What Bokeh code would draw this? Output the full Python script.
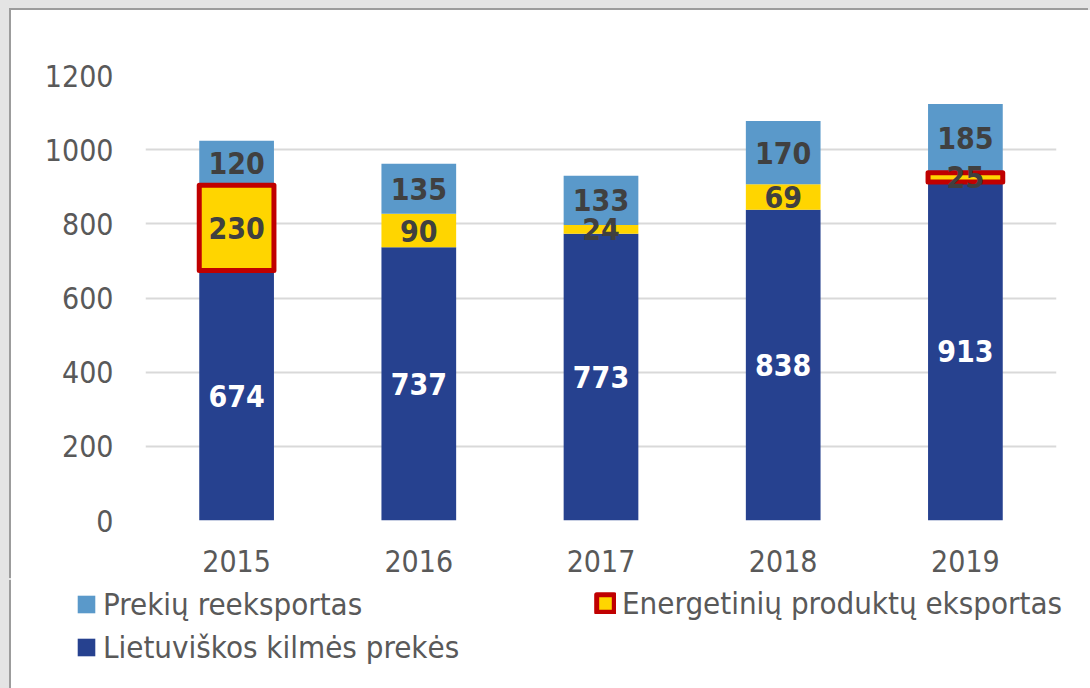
from bokeh.plotting import figure
from bokeh.models import ColumnDataSource, FactorRange, Range1d, FixedTicker, Legend, LegendItem
from bokeh.layouts import column
from bokeh.embed import file_html
from bokeh.resources import INLINE
from bokeh.core.properties import value

# ---- data ----
years = ["2015", "2016", "2017", "2018", "2019"]
domestic = [674, 737, 773, 838, 913]          # Lietuviškos kilmės prekės
energy = [230, 90, 24, 69, 25]                # Energetinių produktų eksportas
reexport = [120, 135, 133, 170, 185]          # Prekių reeksportas
highlight_years = ["2015", "2019"]
y_ticks = [0, 200, 400, 600, 800, 1000, 1200]
series_names = ["Prekių reeksportas", "Energetinių produktų eksportas", "Lietuviškos kilmės prekės"]

# ---- style ----
FONT = "DejaVu Sans Condensed"
C_DOM = "#26418F"
C_EN = "#FFD500"
C_RE = "#5A99CA"
C_HL = "#C00000"
C_TXT = "#595959"
C_LBL = "#404040"

dom_top = domestic
en_top = [d + e for d, e in zip(domestic, energy)]
re_top = [t + r for t, r in zip(en_top, reexport)]

src = ColumnDataSource(dict(
    year=years,
    zero=[0] * len(years),
    dom_top=dom_top,
    en_top=en_top,
    re_top=re_top,
))

hl_idx = [years.index(y) for y in highlight_years]
hl_src = ColumnDataSource(dict(
    year=[years[i] for i in hl_idx],
    bottom=[dom_top[i] for i in hl_idx],
    top=[en_top[i] for i in hl_idx],
))

lbl_x, lbl_y, lbl_t, lbl_c = [], [], [], []
for i, y in enumerate(years):
    lbl_x += [y, y, y]
    lbl_y += [domestic[i] / 2, dom_top[i] + energy[i] / 2, en_top[i] + reexport[i] / 2]
    lbl_t += [str(domestic[i]), str(energy[i]), str(reexport[i])]
    lbl_c += ["#FFFFFF", C_LBL, C_LBL]
lbl_src = ColumnDataSource(dict(x=lbl_x, y=lbl_y, t=lbl_t, c=lbl_c))

W = 1079
H1 = 570
H2 = 688 - 10 - H1
BW = 0.41

p = figure(
    x_range=FactorRange(*years), y_range=Range1d(0, 1200),
    width=W, height=H1, output_backend="svg", toolbar_location=None,
    min_border_left=134, min_border_right=34, min_border_top=65, min_border_bottom=H1 - 65 - 445,
)
p.margin = (10, 0, 0, 11)
p.styles = {"box-shadow": "-2px -2px 0 #9c9c9c", "background-color": "white"}
p.outline_line_color = None
p.background_fill_color = "white"
p.border_fill_color = "white"

p.vbar(x="year", bottom="zero", top="dom_top", width=BW, source=src,
       fill_color=C_DOM, line_color=None)
p.vbar(x="year", bottom="dom_top", top="en_top", width=BW, source=src,
       fill_color=C_EN, line_color=None)
p.vbar(x="year", bottom="en_top", top="re_top", width=BW, source=src,
       fill_color=C_RE, line_color=None)
p.vbar(x="year", bottom="bottom", top="top", width=BW, source=hl_src,
       fill_color=None, line_color=C_HL, line_width=5, line_join="round")

p.text(x="x", y="y", text="t", source=lbl_src, text_color="c",
       text_font=value(FONT), text_font_size="30px", text_font_style="bold",
       text_align="center", text_baseline="middle")

# axes
p.yaxis.ticker = FixedTicker(ticks=y_ticks)
p.yaxis.axis_line_color = None
p.yaxis.major_tick_line_color = None
p.yaxis.minor_tick_line_color = None
p.yaxis.major_label_standoff = 26
p.xaxis.axis_line_color = None
p.xaxis.major_tick_line_color = None
p.xaxis.major_label_standoff = 23
for ax in (p.xaxis[0], p.yaxis[0]):
    ax.major_label_text_font = FONT
    ax.major_label_text_font_size = "30px"
    ax.major_label_text_color = C_TXT
p.xgrid.grid_line_color = None
p.ygrid.grid_line_color = "#D9D9D9"
p.ygrid.grid_line_width = 2
p.ygrid.ticker = FixedTicker(ticks=y_ticks)

# ---- legend strip: its own root canvas; legend proxies carry no drawable values ----
q = figure(x_range=FactorRange(*years), y_range=Range1d(0, 1), width=W, height=H2,
           output_backend="svg", toolbar_location=None,
           x_axis_type=None, y_axis_type=None, min_border=0)
q.margin = (0, 0, 0, 11)
q.styles = {"box-shadow": "-2px 0 0 #9c9c9c", "background-color": "white"}
q.outline_line_color = None
q.background_fill_color = "white"
q.border_fill_color = "white"
q.xgrid.grid_line_color = None
q.ygrid.grid_line_color = None
nan = float("nan")
proxy = ColumnDataSource(dict(year=[years[0]], b=[nan], t=[nan]))
q_re = q.vbar(x="year", bottom="b", top="t", width=BW, source=proxy,
              fill_color=C_RE, line_color=None)
q_dom = q.vbar(x="year", bottom="b", top="t", width=BW, source=proxy,
               fill_color=C_DOM, line_color=None)
q_en = q.vbar(x="year", bottom="b", top="t", width=BW, source=proxy,
              fill_color=C_EN, line_color=None)
q_hl = q.vbar(x="year", bottom="b", top="t", width=BW, source=proxy,
              fill_color=None, line_color=C_HL, line_width=5, line_join="round")


def mk_legend(items, loc):
    lg = Legend(items=items, location=loc, orientation="vertical")
    lg.glyph_width = 22
    lg.glyph_height = 22
    lg.label_standoff = 6
    lg.label_text_font = FONT
    lg.label_text_font_size = "31px"
    lg.label_text_color = C_TXT
    lg.label_height = 22
    lg.spacing = 7
    lg.padding = 0
    lg.margin = 0
    lg.border_line_color = None
    lg.background_fill_alpha = 0
    return lg


leg_a = mk_legend([LegendItem(label=series_names[0], renderers=[q_re]),
                   LegendItem(label=series_names[2], renderers=[q_dom])], (64, 23))
leg_b = mk_legend([LegendItem(label=series_names[1], renderers=[q_en, q_hl])], (583, 67))
q.add_layout(leg_a, "center")
q.add_layout(leg_b, "center")

top_box = column(p, spacing=0, styles={"background-color": "#E4E4E4"})
bottom_box = column(q, spacing=0, styles={"background-color": "#E4E4E4"})
open("out.html", "w").write(file_html([top_box, bottom_box], INLINE))
